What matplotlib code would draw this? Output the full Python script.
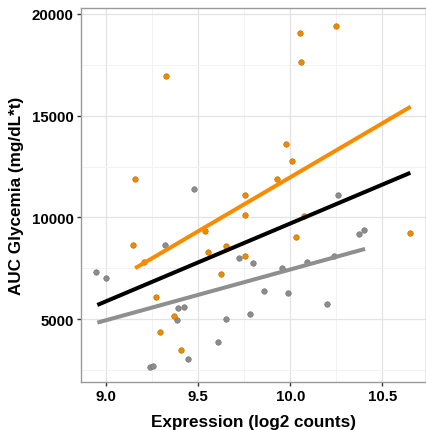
import numpy as np
import matplotlib
matplotlib.use("Agg")
import matplotlib.pyplot as plt

# orange group
orange_x = [9.326, 9.158, 9.147, 10.054, 10.056, 10.250, 9.977, 10.012, 9.927, 9.757,
            9.757, 9.538, 9.554, 9.652, 9.752, 9.625, 9.272, 9.368, 9.291, 9.409,
            10.033, 10.648, 10.076, 9.208]
orange_y = [16950, 11880, 8650, 19030, 17650, 19420, 13620, 12780, 11900, 11110,
            10130, 9340, 8310, 8600, 8110, 7230, 6100, 5160, 4380, 3490,
            9050, 9240, 10050, 7820]

# grey group
grey_x = [9.476, 8.946, 9.000, 9.321, 9.391, 9.426, 9.388, 9.652, 9.609, 9.444,
          9.239, 9.257, 9.721, 9.799, 9.784, 10.259, 9.855, 9.987, 9.958, 10.090,
          10.237, 10.201, 10.373, 10.402]
grey_y = [11410, 7345, 7030, 8650, 5560, 5610, 4980, 5020, 3890, 3050,
          2660, 2700, 8010, 7770, 5260, 11110, 6390, 6290, 7520, 7820,
          8110, 5750, 9190, 9390]

# fitted lines (end points)
fit_all_x = [8.953, 10.652]
fit_all_y = [5703, 12192]
fit_grey_x = [8.953, 10.406]
fit_grey_y = [4836, 8456]
fit_orange_x = [9.158, 10.654]
fit_orange_y = [7507, 15437]

xticks = [9.0, 9.5, 10.0, 10.5]
yticks = [5000, 10000, 15000, 20000]

plt.rcParams['font.family'] = ['Liberation Sans', 'DejaVu Sans']

fig = plt.figure(figsize=(4.26, 4.31), dpi=100)
ax = fig.add_axes([0.1894, 0.1107, 0.81, 0.8691])

ax.set_xlim(8.8627, 10.7356)
ax.set_ylim(1909, 20294)

ax.set_xticks(xticks)
ax.set_yticks(yticks)
ax.set_xticks([9.25, 9.75, 10.25], minor=True)
ax.set_yticks([2500, 7500, 12500, 17500], minor=True)
ax.grid(True, which='major', color='#e3e3e3', lw=0.9, zorder=0)
ax.grid(True, which='minor', color='#f2f2f2', lw=0.7, zorder=0)
ax.set_axisbelow(True)

ax.scatter(grey_x, grey_y, s=16, color='#8c8c8c', edgecolors='#6e6e6e', linewidths=0.4, zorder=2)
ax.scatter(orange_x, orange_y, s=16, color='#ee8a00', edgecolors='#b86a00', linewidths=0.4, zorder=2)

ax.plot(fit_grey_x, fit_grey_y, color='#8f8f8f', lw=2.9, solid_capstyle='butt', zorder=3)
ax.plot(fit_all_x, fit_all_y, color='black', lw=2.9, solid_capstyle='butt', zorder=3)
ax.plot(fit_orange_x, fit_orange_y, color='#f88c00', lw=2.9, solid_capstyle='butt', zorder=3)

for sp in ax.spines.values():
    sp.set_color('#9a9a9a')
    sp.set_linewidth(1.0)

ax.tick_params(which='major', length=3, width=1, color='#333333', labelsize=10.8, pad=2)
ax.tick_params(which='minor', length=0)
ax.set_xticklabels(['9.0', '9.5', '10.0', '10.5'], fontweight='bold')
ax.set_yticklabels([str(v) for v in yticks], fontweight='bold')

ax.set_xlabel('Expression (log2 counts)', fontsize=12.3, fontweight='bold', labelpad=8)
ax.set_ylabel('AUC Glycemia (mg/dL*t)', fontsize=12.3, fontweight='bold', labelpad=6)

fig.savefig('out.png', dpi=100)
